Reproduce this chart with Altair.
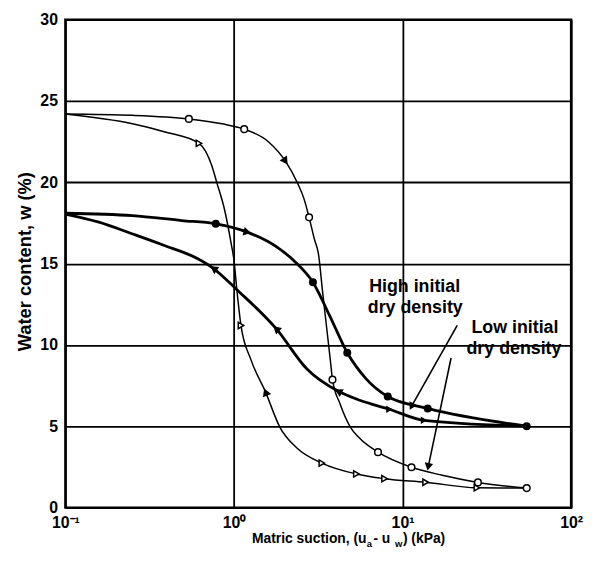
import altair as alt
import pandas as pd

FONT = "Liberation Sans"

# ---- axes ----
x_ticks = [0.1, 1, 10, 100]
x_tick_labels = ["10⁻¹", "10⁰", "10¹", "10²"]
y_ticks = [0, 5, 10, 15, 20, 25, 30]

# ---- curves: matric suction (kPa), water content (%) ----
# Low initial dry density, drying path (open circles)
low_dry_s = [0.1, 0.25, 0.54, 0.85, 1.15, 1.6, 2.02, 2.37, 2.6, 2.79, 3.0, 3.17, 3.36, 3.57, 3.75, 3.84,
             4.25, 4.87, 5.57, 7.15, 11.3, 17.2, 28.0, 54.5]
low_dry_w = [24.2, 24.12, 23.9, 23.6, 23.27, 22.5, 21.3, 20.0, 19.0, 17.85, 16.5, 15.6, 13.2, 10.8, 8.83, 7.87,
             6.4, 5.0, 4.26, 3.41, 2.48, 1.99, 1.55, 1.2]
# Low initial dry density, wetting path (open triangles)
low_wet_s = [0.1, 0.25, 0.39, 0.62, 0.74, 0.79, 0.88, 0.96, 1.0, 1.04, 1.10, 1.26, 1.54, 1.87, 2.37, 3.32,
             5.32, 7.82, 13.7, 27.6, 54.5]
low_wet_w = [24.2, 23.6, 23.1, 22.4, 21.0, 20.0, 18.3, 16.3, 15.2, 13.4, 11.2, 9.1, 7.1, 4.95, 3.65, 2.74,
             2.07, 1.78, 1.56, 1.22, 1.2]
# High initial dry density, drying path (filled circles)
high_dry_s = [0.1, 0.25, 0.49, 0.78, 1.2, 1.81, 2.26, 2.94, 3.71, 4.7, 6.1, 8.17, 14.1, 54.5]
high_dry_w = [18.1, 17.95, 17.65, 17.45, 16.94, 16.0, 15.2, 13.86, 11.76, 9.52, 7.9, 6.83, 6.1, 5.01]
# High initial dry density, wetting path (filled triangles)
high_wet_s = [0.1, 0.158, 0.248, 0.39, 0.61, 0.757, 1.04, 1.78, 2.71, 4.16, 5.57, 8.35, 13.4, 54.5]
high_wet_w = [18.05, 17.55, 16.84, 16.1, 15.3, 14.7, 13.4, 11.0, 8.52, 7.15, 6.6, 6.05, 5.37, 5.01]

# ---- markers ----
open_circle_s = [0.54, 1.15, 2.79, 3.84, 7.15, 11.3, 28.0, 54.5]
open_circle_w = [23.9, 23.27, 17.85, 7.87, 3.41, 2.48, 1.55, 1.2]
open_tri_s = [0.62, 1.10, 3.32, 5.32, 7.82, 13.7, 27.6]
open_tri_w = [22.4, 11.2, 2.74, 2.07, 1.78, 1.56, 1.22]
filled_circle_s = [0.78, 2.94, 4.7, 8.17, 14.1, 54.5]
filled_circle_w = [17.45, 13.86, 9.52, 6.83, 6.1, 5.01]
filled_tri_s = [8.35, 13.4]
filled_tri_w = [6.05, 5.37]
# direction arrows on the curves (angle of travel, degrees clockwise from up)
arrow_s = [2.02, 1.20, 1.78, 0.757, 1.54, 4.16]
arrow_w = [21.3, 16.94, 11.0, 14.7, 7.1, 7.15]
arrow_ang = [146, 104, 312, 305, 338, 297]

# ---- annotations ----
ann_text = ["High initial", "dry density", "Low initial", "dry density"]
ann_s = [11.8, 11.9, 46.4, 45.8]
ann_w = [13.27, 11.99, 10.71, 9.43]
pointer_group = ["high", "high", "low", "low"]
pointer_s = [21.1, 11.3, 19.4, 14.2]
pointer_w = [11.2, 6.22, 9.2, 2.51]
pointer_head_s = [11.3, 14.2]
pointer_head_w = [6.22, 2.51]
pointer_head_ang = [209, 191]

NB = "\u00a0"
x_title_parts = ["Matric suction, (u", "a", NB + "-" + NB + "u", "w", ")" + NB + "(kPa)"]

# ---------------------------------------------------------------
expr = "'" + x_tick_labels[-1] + "'"
for t, lab in reversed(list(zip(x_ticks[:-1], x_tick_labels[:-1]))):
    expr = f"datum.value < {t * 1.5} ? '{lab}' : ({expr})"

X = alt.X(
    "s:Q",
    scale=alt.Scale(type="log", domain=[0.1, 100]),
    title=None,
    axis=alt.Axis(
        values=x_ticks, labelExpr=expr, grid=True, gridColor="black", gridWidth=1.8,
        gridOpacity=1, ticks=False, tickSize=0, domain=False, labelFont=FONT,
        labelFontSize=16, labelFontWeight="bold", labelColor="black", labelPadding=7,
        labelFlush=False, labelOverlap=False,
    ),
)
Y = alt.Y(
    "w:Q",
    scale=alt.Scale(domain=[0, 30]),
    axis=alt.Axis(
        values=y_ticks, grid=True, gridColor="black", gridWidth=1.8, gridOpacity=1,
        ticks=False, tickSize=0, domain=False, labelFont=FONT, labelFontSize=16,
        labelFontWeight="bold", labelColor="black", labelPadding=8,
        title="Water content, w (%)", titleFont=FONT, titleFontSize=18.5,
        titleFontWeight="bold", titleColor="black", titleAngle=270, titleX=-35,
        titleY=244, titleAlign="center", titleBaseline="alphabetic",
    ),
)


def frame(s, w, **extra):
    d = {"s": s, "w": w}
    d.update(extra)
    return pd.DataFrame(d)


def curve(s, w, width):
    return alt.Chart(frame(s, w)).mark_line(
        color="black", strokeWidth=width, interpolate="monotone"
    ).encode(x=X, y=Y)


layers = [
    curve(low_dry_s, low_dry_w, 1.5),
    curve(low_wet_s, low_wet_w, 1.5),
    curve(high_dry_s, high_dry_w, 2.8),
    curve(high_wet_s, high_wet_w, 2.8),
    alt.Chart(frame(pointer_s, pointer_w, g=pointer_group)).mark_line(
        color="black", strokeWidth=1.6
    ).encode(x=X, y=Y, detail="g:N"),
    alt.Chart(frame(pointer_head_s, pointer_head_w, a=pointer_head_ang)).mark_point(
        shape="triangle-up", filled=True, color="black", size=75, opacity=1
    ).encode(x=X, y=Y, angle=alt.Angle("a:Q", scale=None)),
    alt.Chart(frame(open_circle_s, open_circle_w)).mark_point(
        shape="circle", filled=True, fill="white", stroke="black", strokeWidth=1.5,
        size=45, opacity=1
    ).encode(x=X, y=Y),
    alt.Chart(frame(open_tri_s, open_tri_w)).mark_point(
        shape="triangle-right", filled=True, fill="white", stroke="black", strokeWidth=1.5,
        size=40, opacity=1
    ).encode(x=X, y=Y),
    alt.Chart(frame(filled_circle_s, filled_circle_w)).mark_point(
        shape="circle", filled=True, color="black", size=65, opacity=1
    ).encode(x=X, y=Y),
    alt.Chart(frame(filled_tri_s, filled_tri_w)).mark_point(
        shape="triangle-right", filled=True, color="black", size=55, opacity=1
    ).encode(x=X, y=Y),
    alt.Chart(frame(arrow_s, arrow_w, a=arrow_ang)).mark_point(
        shape="triangle-up", filled=True, color="black", size=80, opacity=1
    ).encode(x=X, y=Y, angle=alt.Angle("a:Q", scale=None)),
    alt.Chart(frame(ann_s, ann_w, t=ann_text)).mark_text(
        font=FONT, fontSize=18, fontWeight="bold", color="black", align="center",
        baseline="alphabetic"
    ).encode(x=X, y=Y, text="t:N"),
]

# x-axis title with subscripts
title_pos = [188.5, 304.4, 311.2, 333.0, 341.0]
title_y = [529, 532.5, 529, 532.5, 529]
title_size = [14, 9.5, 14, 9.5, 14]
for part, px, py, fs in zip(x_title_parts, title_pos, title_y, title_size):
    layers.append(
        alt.Chart(pd.DataFrame({"t": [part]})).mark_text(
            font=FONT, fontSize=fs, fontWeight="bold", color="black", align="left",
            baseline="alphabetic"
        ).encode(x=alt.value(px), y=alt.value(py), text="t:N")
    )

chart = alt.layer(*layers).properties(
    width=511,
    height=493,
    autosize=alt.AutoSizeParams(type="none"),
    padding={"left": 58, "top": 9, "right": 13, "bottom": 41},
    background="white",
).configure_view(stroke="black", strokeWidth=2.5)

chart.save("out.html", embed_options={"renderer": "svg", "actions": False})
